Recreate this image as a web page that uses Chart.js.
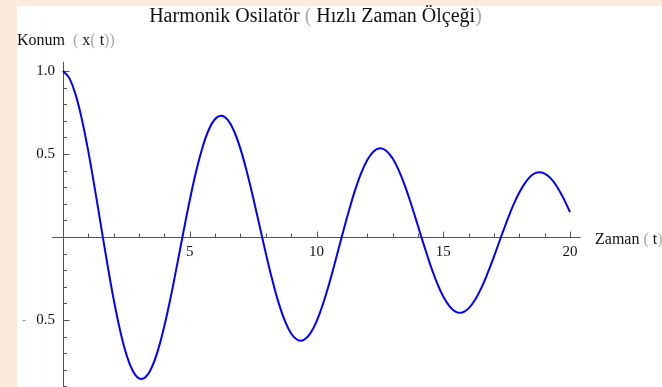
<!DOCTYPE html>
<html>
<head>
<meta charset="utf-8">
<script src="https://cdn.jsdelivr.net/npm/chart.js@4/dist/chart.umd.min.js"></script>
<style>
  html, body { margin: 0; padding: 0; background: #fcebdc; }
  canvas { display: block; }
</style>
</head>
<body>
<canvas id="osc" width="662" height="387"></canvas>
<script>
// Time samples (t) and displacement x(t) of the damped oscillator
const times = [
  0, 0.25, 0.5, 0.75, 1, 1.25, 1.5, 1.75, 2, 2.25, 2.5, 2.75, 3, 3.25, 3.5, 3.75, 4, 4.25, 4.5, 4.75, 5,
  5.25, 5.5, 5.75, 6, 6.25, 6.5, 6.75, 7, 7.25, 7.5, 7.75, 8, 8.25, 8.5, 8.75, 9, 9.25, 9.5, 9.75, 10,
  10.25, 10.5, 10.75, 11, 11.25, 11.5, 11.75, 12, 12.25, 12.5, 12.75, 13, 13.25, 13.5, 13.75, 14, 14.25, 14.5, 14.75, 15,
  15.25, 15.5, 15.75, 16, 16.25, 16.5, 16.75, 17, 17.25, 17.5, 17.75, 18, 18.25, 18.5, 18.75, 19, 19.25, 19.5, 19.75, 20
];
const positions = [
  1.000, 0.957, 0.856, 0.705, 0.514, 0.296, 0.066, -0.163, -0.377, -0.561, -0.707, -0.806, -0.852, -0.845, -0.786, -0.680, -0.535, -0.361, -0.168, 0.030, 0.221,
  0.394, 0.538, 0.646, 0.711, 0.731, 0.706, 0.637, 0.531, 0.395, 0.238, 0.070, -0.098, -0.255, -0.394, -0.504, -0.581, -0.620, -0.620, -0.582, -0.509,
  -0.406, -0.281, -0.142, 0.003, 0.143, 0.272, 0.381, 0.463, 0.515, 0.534, 0.520, 0.474, 0.400, 0.303, 0.190, 0.068, -0.055, -0.172, -0.275, -0.359,
  -0.418, -0.451, -0.455, -0.430, -0.380, -0.308, -0.218, -0.118, -0.012, 0.091, 0.187, 0.268, 0.331, 0.373, 0.390, 0.382, 0.352, 0.300, 0.231, 0.150
];

// Labelled ticks
const xTickValues = [5, 10, 15, 20];
const xTickLabels = ['5', '10', '15', '20'];
const yTickValues = [1.0, 0.5, -0.5];
const yTickLabels = ['1.0', '0.5', '- 0.5'];

const titleText = 'Harmonik Osilatör ( Hızlı Zaman Ölçeği)';

const SERIF = '"Liberation Serif", "Times New Roman", serif';
const AXIS = '#555555';
const PAREN = '#a8a8a8';

// Draws a run of [text, colour] pieces one after another
function drawRun(ctx, pieces, x, y) {
  let cx = x;
  for (const [txt, col] of pieces) {
    ctx.fillStyle = col;
    ctx.fillText(txt, cx, y);
    cx += ctx.measureText(txt).width;
  }
}

const framePlugin = {
  id: 'frame',
  beforeDraw(chart) {
    const ctx = chart.ctx;
    ctx.save();
    ctx.fillStyle = '#fcebdc';
    ctx.fillRect(0, 0, chart.width, chart.height);
    ctx.fillStyle = '#ffffff';
    ctx.fillRect(17, 6, chart.width - 17, chart.height - 6);
    ctx.restore();
  },
  beforeDatasetsDraw(chart) {
    const ctx = chart.ctx;
    const xs = chart.scales.x, ys = chart.scales.y;
    const x0 = Math.round(xs.getPixelForValue(0)) + 0.5;
    const y0 = Math.round(ys.getPixelForValue(0)) + 0.5;
    ctx.save();
    ctx.strokeStyle = AXIS;
    ctx.lineWidth = 1;
    ctx.beginPath();
    // horizontal axis
    ctx.moveTo(xs.getPixelForValue(-0.43), y0);
    ctx.lineTo(xs.getPixelForValue(20.42), y0);
    // vertical axis
    ctx.moveTo(x0, ys.getPixelForValue(1.055));
    ctx.lineTo(x0, chart.height);
    // ticks on the time axis
    for (let t = 1; t <= 20; t++) {
      const px = Math.round(xs.getPixelForValue(t)) + 0.5;
      const len = t % 5 === 0 ? 6 : 4;
      ctx.moveTo(px, y0);
      ctx.lineTo(px, y0 - len);
    }
    // ticks on the position axis
    for (let k = -9; k <= 10; k++) {
      if (k === 0) continue;
      const py = Math.round(ys.getPixelForValue(k / 10)) + 0.5;
      const len = k % 5 === 0 ? 6 : 3.5;
      ctx.moveTo(x0, py);
      ctx.lineTo(x0 + len, py);
    }
    ctx.stroke();

    // tick labels
    ctx.fillStyle = '#111';
    ctx.font = '15px ' + SERIF;
    ctx.textAlign = 'center';
    ctx.textBaseline = 'middle';
    xTickValues.forEach((v, i) => {
      ctx.fillText(xTickLabels[i], xs.getPixelForValue(v), y0 + 15);
    });
    ctx.textAlign = 'right';
    yTickValues.forEach((v, i) => {
      const py = ys.getPixelForValue(v);
      let lab = yTickLabels[i];
      if (lab.startsWith('- ')) {
        ctx.save();
        ctx.fillStyle = '#777';
        ctx.font = '11px ' + SERIF;
        ctx.textAlign = 'center';
        ctx.fillText('-', 24, py);
        ctx.restore();
        lab = lab.slice(2);
      }
      ctx.fillText(lab, 55, py);
    });
    ctx.restore();
  },
  afterDraw(chart) {
    const ctx = chart.ctx;
    const ys = chart.scales.y;
    const y0 = ys.getPixelForValue(0);
    ctx.save();
    ctx.textBaseline = 'alphabetic';
    ctx.textAlign = 'left';
    // title
    ctx.font = '20px ' + SERIF;
    const tw = ctx.measureText(titleText).width;
    drawRun(ctx, [
      ['Harmonik Osilatör ', '#111'], ['(', PAREN], [' Hızlı Zaman Ölçeği', '#111'], [')', PAREN]
    ], 315.5 - tw / 2, 22);
    // axis names
    ctx.font = '16px ' + SERIF;
    drawRun(ctx, [
      ['Konum  ', '#111'], ['(', PAREN], [' x', '#111'], ['(', PAREN], [' t', '#111'], ['))', PAREN]
    ], 17, 45);
    drawRun(ctx, [
      ['Zaman ', '#111'], ['(', PAREN], [' t', '#111'], [')', PAREN]
    ], 595, y0 + 6.5);
    ctx.restore();
  }
};

new Chart(document.getElementById('osc'), {
  type: 'line',
  data: {
    datasets: [{
      data: times.map((t, i) => ({ x: t, y: positions[i] })),
      borderColor: '#0000ff',
      borderWidth: 2,
      pointRadius: 0,
      tension: 0.4,
      fill: false,
      clip: false
    }]
  },
  options: {
    responsive: false,
    animation: false,
    devicePixelRatio: 1,
    layout: { padding: { left: 63, right: 92, top: 62.7, bottom: 0.6 } },
    scales: {
      x: { type: 'linear', min: 0, max: 20, display: false },
      y: { type: 'linear', min: -0.9, max: 1.05, display: false }
    },
    plugins: {
      legend: { display: false },
      tooltip: { enabled: false },
      title: { display: false }
    }
  },
  plugins: [framePlugin]
});
</script>
</body>
</html>
